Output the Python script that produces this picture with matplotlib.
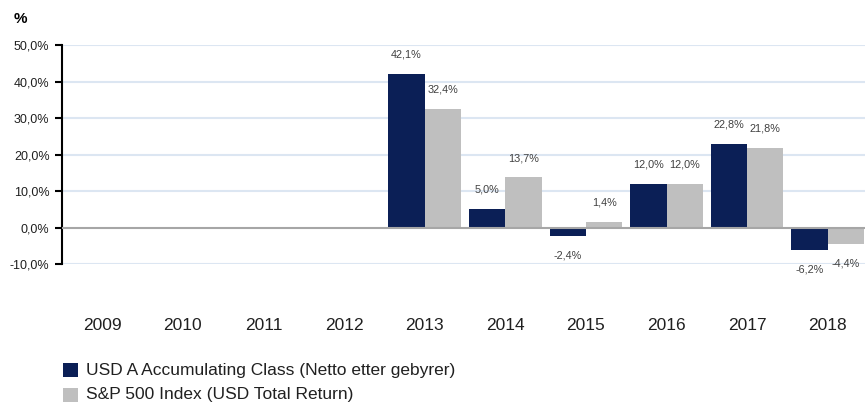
import matplotlib
matplotlib.use("Agg")
import matplotlib.pyplot as plt
import numpy as np
from matplotlib.patches import Rectangle

years = ["2009", "2010", "2011", "2012", "2013", "2014", "2015", "2016", "2017", "2018"]
fund = [None, None, None, None, 42.1, 5.0, -2.4, 12.0, 22.8, -6.2]
index = [None, None, None, None, 32.4, 13.7, 1.4, 12.0, 21.8, -4.4]
yticks = [-10, 0, 10, 20, 30, 40, 50]
series_names = ["USD A Accumulating Class (Netto etter gebyrer)", "S&P 500 Index (USD Total Return)"]

c_fund = "#0b1f56"
c_index = "#bfbfbf"
fontname = "Liberation Sans"

W, H = 865, 405
fig = plt.figure(figsize=(W / 100, H / 100), dpi=100)
ax = fig.add_axes([62 / W, 1 - 264 / H, 806 / W, (264 - 45) / H])

x = np.arange(len(years))
bw = 0.45

def fmt(v):
    return f"{v:.1f}".replace(".", ",") + "%"

for vals, off, col in [(fund, -bw / 2, c_fund), (index, bw / 2, c_index)]:
    for i, v in enumerate(vals):
        if v is None:
            continue
        ax.bar(x[i] + off, v, width=bw, color=col, zorder=3, linewidth=0)
        ax.annotate(fmt(v), (x[i] + off, v), xytext=(0, 14 if v >= 0 else -14),
                    textcoords="offset points", ha="center", va="center",
                    fontsize=7.8, color="#404040", family=fontname)

ax.set_xlim(-0.5, len(years) - 0.5)
ax.set_ylim(-10, 50)
ax.set_yticks(yticks)
ax.set_yticklabels([fmt(t) for t in yticks], fontsize=9, family=fontname, color="#202020")
for t in yticks:
    if t == 0:
        ax.axhline(0, color="#a6a6a6", lw=1.5, zorder=4)
    else:
        ax.axhline(t, color="#dce6f2", lw=1.5, zorder=1)

ax.set_xticks(x)
ax.set_xticklabels(years, fontsize=12.5, family=fontname, color="#202020")
ax.tick_params(axis="x", length=0, pad=39)
ax.tick_params(axis="y", length=5, width=1.5, direction="out", pad=4)

for s in ["top", "right", "bottom"]:
    ax.spines[s].set_visible(False)
ax.spines["left"].set_linewidth(1.5)
ax.spines["left"].set_color("black")
ax.set_facecolor("none")

fig.text(20 / W, 1 - 19 / H, "%", fontsize=11, fontweight="bold", family=fontname,
         ha="center", va="center")

# legend
for j, (name, col) in enumerate(zip(series_names, [c_fund, c_index])):
    yc = 370 + 25 * j
    fig.patches.append(Rectangle((63 / W, 1 - (yc + 7) / H), 15 / W, 14 / H,
                                 transform=fig.transFigure, facecolor=col, edgecolor="none"))
    fig.text(86 / W, 1 - yc / H, name, fontsize=12.5, family=fontname,
             ha="left", va="center", color="#202020")

fig.savefig("out.png", dpi=100)
